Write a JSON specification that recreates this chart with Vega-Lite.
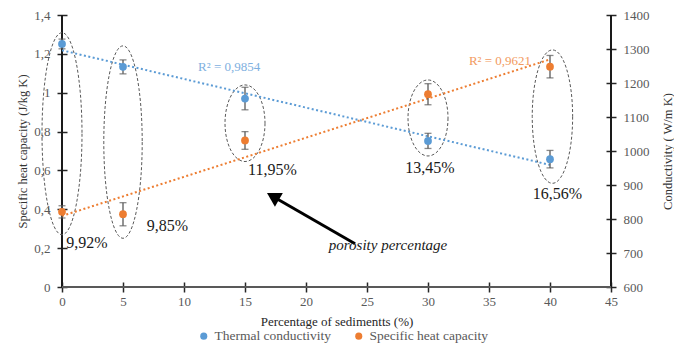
{
  "$schema": "https://vega.github.io/schema/vega-lite/v6.json",
  "width": 549,
  "height": 272,
  "autosize": {"type": "none"},
  "padding": {"left": 62, "top": 15, "right": 63, "bottom": 59},
  "background": "white",
  "datasets": {
    "pts": [
      {"series": "Thermal conductivity", "x": 0, "v": 1.251, "lo": 1.226, "hi": 1.276},
      {"series": "Thermal conductivity", "x": 5, "v": 1.133, "lo": 1.097, "hi": 1.169},
      {"series": "Thermal conductivity", "x": 15, "v": 0.970, "lo": 0.912, "hi": 1.028},
      {"series": "Thermal conductivity", "x": 30, "v": 0.752, "lo": 0.713, "hi": 0.791},
      {"series": "Thermal conductivity", "x": 40, "v": 0.658, "lo": 0.613, "hi": 0.703},
      {"series": "Specific heat capacity", "x": 0, "v": 821, "lo": 803, "hi": 839},
      {"series": "Specific heat capacity", "x": 5, "v": 814, "lo": 780, "hi": 848},
      {"series": "Specific heat capacity", "x": 15, "v": 1031, "lo": 1005, "hi": 1057},
      {"series": "Specific heat capacity", "x": 30, "v": 1167, "lo": 1136, "hi": 1198},
      {"series": "Specific heat capacity", "x": 40, "v": 1248, "lo": 1215, "hi": 1281}
    ],
    "ell": [
      {"grp": "e1", "x": 0, "y": 0.789},
      {"grp": "e2", "x": 5, "y": 0.746},
      {"grp": "e3", "x": 15, "y": 0.843},
      {"grp": "e4", "x": 30, "y": 0.870},
      {"grp": "e5", "x": 40.2, "y": 0.877}
    ],
    "pct": [
      {"label": "9,92%", "x": 2.05, "y": 0.228},
      {"label": "9,85%", "x": 8.65, "y": 0.315},
      {"label": "11,95%", "x": 17.25, "y": 0.603},
      {"label": "13,45%", "x": 30.16, "y": 0.612},
      {"label": "16,56%", "x": 40.6, "y": 0.478}
    ],
    "arrow": [
      {"x": 24.02, "y": 0.2226, "x2": 17.29, "y2": 0.466}
    ],
    "note": [
      {"label": "porosity percentage", "x": 26.72, "y": 0.2175}
    ],
    "r2blue": [
      {"label": "R² = 0,9854", "x": 13.7, "y": 1.134}
    ],
    "r2orange": [
      {"label": "R² = 0,9621", "x": 35.9, "y": 1265}
    ],
    "edges": [
      {"e": 0}
    ]
  },
  "layer": [
    {
      "layer": [
        {
          "data": {"name": "edges"},
          "mark": {"type": "rule", "color": "#1a1a1a", "strokeWidth": 2},
          "encoding": {
            "x": {"datum": 0, "type": "quantitative", "title": "Percentage of sedimentts (%)"}
          }
        },
        {
          "data": {"name": "edges"},
          "mark": {"type": "rule", "color": "#1a1a1a", "strokeWidth": 2},
          "encoding": {
            "x": {"datum": 45, "type": "quantitative", "title": "Percentage of sedimentts (%)"}
          }
        },
        {
          "data": {"name": "edges"},
          "mark": {"type": "rule", "color": "#595959", "strokeWidth": 2},
          "encoding": {
            "y": {"datum": 0, "type": "quantitative", "title": "Specific heat capacity (J/kg K)"}
          }
        },
        {
          "data": {"name": "ell"},
          "mark": {"type": "point", "filled": false, "stroke": "#595959", "strokeWidth": 1, "strokeDash": [3, 2], "size": 40000, "opacity": 1},
          "encoding": {
            "x": {"field": "x", "type": "quantitative", "title": "Percentage of sedimentts (%)"},
            "y": {"field": "y", "type": "quantitative", "title": "Specific heat capacity (J/kg K)"},
            "shape": {
              "field": "grp",
              "type": "nominal",
              "legend": null,
              "scale": {
                "domain": ["e1", "e2", "e3", "e4", "e5"],
                "range": [
                  "M 0.2 0 C 0.2 0.5578 0.1105 1.01 0 1.01 C -0.1105 1.01 -0.2 0.5578 -0.2 0 C -0.2 -0.5578 -0.1105 -1.01 0 -1.01 C 0.1105 -1.01 0.2 -0.5578 0.2 0 Z",
                  "M 0.192 0 C 0.192 0.5313 0.106 0.962 0 0.962 C -0.106 0.962 -0.192 0.5313 -0.192 0 C -0.192 -0.5313 -0.106 -0.962 0 -0.962 C 0.106 -0.962 0.192 -0.5313 0.192 0 Z",
                  "M 0.2 0 C 0.2 0.2115 0.1105 0.383 0 0.383 C -0.1105 0.383 -0.2 0.2115 -0.2 0 C -0.2 -0.2115 -0.1105 -0.383 0 -0.383 C 0.1105 -0.383 0.2 -0.2115 0.2 0 Z",
                  "M 0.2 0 C 0.2 0.2099 0.1105 0.38 0 0.38 C -0.1105 0.38 -0.2 0.2099 -0.2 0 C -0.2 -0.2099 -0.1105 -0.38 0 -0.38 C 0.1105 -0.38 0.2 -0.2099 0.2 0 Z",
                  "M 0.202 0 C 0.202 0.3684 0.1116 0.667 0 0.667 C -0.1116 0.667 -0.202 0.3684 -0.202 0 C -0.202 -0.3684 -0.1116 -0.667 0 -0.667 C 0.1116 -0.667 0.202 -0.3684 0.202 0 Z"
                ]
              }
            }
          }
        },
        {
          "data": {"name": "pts"},
          "transform": [
            {"filter": "datum.series === 'Thermal conductivity'"},
            {"regression": "v", "on": "x", "extent": [0, 40]}
          ],
          "mark": {"type": "line", "color": "#5B9BD5", "strokeDash": [2, 2.5], "strokeWidth": 2},
          "encoding": {
            "x": {"field": "x", "type": "quantitative", "title": "Percentage of sedimentts (%)"},
            "y": {"field": "v", "type": "quantitative", "title": "Specific heat capacity (J/kg K)"}
          }
        },
        {
          "data": {"name": "pts"},
          "transform": [{"filter": "datum.series === 'Thermal conductivity'"}],
          "mark": {"type": "errorbar", "rule": {"color": "#595959", "strokeWidth": 1.3}, "ticks": {"color": "#595959", "size": 7, "thickness": 1.3}},
          "encoding": {
            "x": {"field": "x", "type": "quantitative", "title": "Percentage of sedimentts (%)"},
            "y": {"field": "lo", "type": "quantitative", "title": "Specific heat capacity (J/kg K)"},
            "y2": {"field": "hi"}
          }
        },
        {
          "data": {"name": "pts"},
          "transform": [{"filter": "datum.series === 'Thermal conductivity'"}],
          "mark": {"type": "circle", "size": 60, "opacity": 1},
          "encoding": {
            "x": {
              "field": "x",
              "type": "quantitative",
              "title": "Percentage of sedimentts (%)",
              "scale": {"domain": [0, 45], "nice": false, "zero": false},
              "axis": {
                "orient": "bottom",
                "values": [0, 5, 10, 15, 20, 25, 30, 35, 40, 45],
                "tickCount": 30,
                "offset": -5,
                "domain": false,
                "tickSize": 10,
                "tickColor": "#262626",
                "tickWidth": 1.5,
                "labelPadding": 3,
                "labelFlush": false,
                "labelOverlap": false,
                "labelColor": "#595959",
                "labelFontSize": 13,
                "titleFontSize": 13,
                "titleFontWeight": "normal",
                "titleColor": "#262626",
                "titleX": 274.5,
                "titleY": 39.7,
                "titleAlign": "center",
                "titleBaseline": "middle",
                "grid": false
              }
            },
            "y": {
              "field": "v",
              "type": "quantitative",
              "title": "Specific heat capacity (J/kg K)",
              "scale": {"domain": [0, 1.4], "nice": false, "zero": false},
              "axis": {
                "orient": "left",
                "values": [0, 0.2, 0.4, 0.6, 0.8, 1, 1.2, 1.4],
                "tickCount": 30,
                "labelExpr": "replace(format(datum.value, '~g'), '.', ',')",
                "offset": -5,
                "domain": false,
                "tickSize": 10,
                "tickColor": "#262626",
                "tickWidth": 1.5,
                "labelPadding": 7,
                "labelFlush": false,
                "labelOverlap": false,
                "labelColor": "#595959",
                "labelFontSize": 13,
                "titleFontSize": 12.5,
                "titleFontWeight": "normal",
                "titleColor": "#333333",
                "titleAngle": 270,
                "titleX": -44.3,
                "titleY": 136,
                "titleAlign": "center",
                "titleBaseline": "middle",
                "grid": false
              }
            },
            "color": {
              "field": "series",
              "type": "nominal",
              "scale": {"domain": ["Thermal conductivity", "Specific heat capacity"], "range": ["#5B9BD5", "#ED7D31"]},
              "legend": {
                "orient": "none",
                "legendX": 135,
                "legendY": 314,
                "direction": "horizontal",
                "title": null,
                "symbolType": "circle",
                "symbolSize": 50,
                "symbolOpacity": 1,
                "labelFontSize": 13.5,
                "labelColor": "#595959",
                "labelOffset": 4,
                "columnPadding": 20
              }
            }
          }
        },
        {
          "data": {"name": "pct"},
          "mark": {"type": "text", "fontSize": 16, "color": "#1a1a1a", "align": "center", "baseline": "middle"},
          "encoding": {
            "x": {"field": "x", "type": "quantitative", "title": "Percentage of sedimentts (%)"},
            "y": {"field": "y", "type": "quantitative", "title": "Specific heat capacity (J/kg K)"},
            "text": {"field": "label"}
          }
        },
        {
          "data": {"name": "arrow"},
          "mark": {"type": "rule", "color": "#000000", "strokeWidth": 3},
          "encoding": {
            "x": {"field": "x", "type": "quantitative", "title": "Percentage of sedimentts (%)"},
            "y": {"field": "y", "type": "quantitative", "title": "Specific heat capacity (J/kg K)"},
            "x2": {"field": "x2"},
            "y2": {"field": "y2"}
          }
        },
        {
          "data": {"name": "arrow"},
          "mark": {"type": "point", "shape": "triangle-up", "angle": 300, "size": 250, "filled": true, "color": "#000000", "opacity": 1},
          "encoding": {
            "x": {"field": "x2", "type": "quantitative", "title": "Percentage of sedimentts (%)"},
            "y": {"field": "y2", "type": "quantitative", "title": "Specific heat capacity (J/kg K)"}
          }
        },
        {
          "data": {"name": "note"},
          "mark": {"type": "text", "fontSize": 15, "fontStyle": "italic", "color": "#1a1a1a", "align": "center", "baseline": "middle"},
          "encoding": {
            "x": {"field": "x", "type": "quantitative", "title": "Percentage of sedimentts (%)"},
            "y": {"field": "y", "type": "quantitative", "title": "Specific heat capacity (J/kg K)"},
            "text": {"field": "label"}
          }
        },
        {
          "data": {"name": "r2blue"},
          "mark": {"type": "text", "fontSize": 13, "color": "#7EB0E0", "align": "center", "baseline": "middle"},
          "encoding": {
            "x": {"field": "x", "type": "quantitative", "title": "Percentage of sedimentts (%)"},
            "y": {"field": "y", "type": "quantitative", "title": "Specific heat capacity (J/kg K)"},
            "text": {"field": "label"}
          }
        }
      ]
    },
    {
      "layer": [
        {
          "data": {"name": "pts"},
          "transform": [
            {"filter": "datum.series === 'Specific heat capacity'"},
            {"regression": "v", "on": "x", "extent": [0, 40]}
          ],
          "mark": {"type": "line", "color": "#ED7D31", "strokeDash": [2, 2.5], "strokeWidth": 2},
          "encoding": {
            "x": {"field": "x", "type": "quantitative", "title": "Percentage of sedimentts (%)"},
            "y": {"field": "v", "type": "quantitative", "title": "Conductivity ( W/m K)"}
          }
        },
        {
          "data": {"name": "pts"},
          "transform": [{"filter": "datum.series === 'Specific heat capacity'"}],
          "mark": {"type": "errorbar", "rule": {"color": "#595959", "strokeWidth": 1.3}, "ticks": {"color": "#595959", "size": 7, "thickness": 1.3}},
          "encoding": {
            "x": {"field": "x", "type": "quantitative", "title": "Percentage of sedimentts (%)"},
            "y": {"field": "lo", "type": "quantitative", "title": "Conductivity ( W/m K)"},
            "y2": {"field": "hi"}
          }
        },
        {
          "data": {"name": "pts"},
          "transform": [{"filter": "datum.series === 'Specific heat capacity'"}],
          "mark": {"type": "circle", "size": 60, "opacity": 1},
          "encoding": {
            "x": {"field": "x", "type": "quantitative", "title": "Percentage of sedimentts (%)"},
            "y": {
              "field": "v",
              "type": "quantitative",
              "title": "Conductivity ( W/m K)",
              "scale": {"domain": [600, 1400], "nice": false, "zero": false},
              "axis": {
                "orient": "right",
                "values": [600, 700, 800, 900, 1000, 1100, 1200, 1300, 1400],
                "tickCount": 30,
                "format": "d",
                "offset": -5,
                "domain": false,
                "tickSize": 10,
                "tickColor": "#262626",
                "tickWidth": 1.5,
                "labelPadding": 7,
                "labelFlush": false,
                "labelOverlap": false,
                "labelColor": "#595959",
                "labelFontSize": 13,
                "titleFontSize": 12.5,
                "titleFontWeight": "normal",
                "titleColor": "#333333",
                "titleAngle": 270,
                "titleX": 61,
                "titleY": 136,
                "titleAlign": "center",
                "titleBaseline": "middle",
                "grid": false
              }
            },
            "color": {
              "field": "series",
              "type": "nominal",
              "scale": {"domain": ["Thermal conductivity", "Specific heat capacity"], "range": ["#5B9BD5", "#ED7D31"]},
              "legend": {
                "orient": "none",
                "legendX": 135,
                "legendY": 314,
                "direction": "horizontal",
                "title": null,
                "symbolType": "circle",
                "symbolSize": 50,
                "symbolOpacity": 1,
                "labelFontSize": 13.5,
                "labelColor": "#595959",
                "labelOffset": 4,
                "columnPadding": 20
              }
            }
          }
        },
        {
          "data": {"name": "r2orange"},
          "mark": {"type": "text", "fontSize": 13, "color": "#F29A5E", "align": "center", "baseline": "middle"},
          "encoding": {
            "x": {"field": "x", "type": "quantitative", "title": "Percentage of sedimentts (%)"},
            "y": {"field": "y", "type": "quantitative", "title": "Conductivity ( W/m K)"},
            "text": {"field": "label"}
          }
        }
      ]
    }
  ],
  "resolve": {"scale": {"y": "independent"}, "axis": {"y": "independent"}},
  "config": {
    "font": "Liberation Serif",
    "view": {"stroke": null},
    "axis": {"grid": false, "labelOverlap": false, "labelFlush": false}
  }
}
